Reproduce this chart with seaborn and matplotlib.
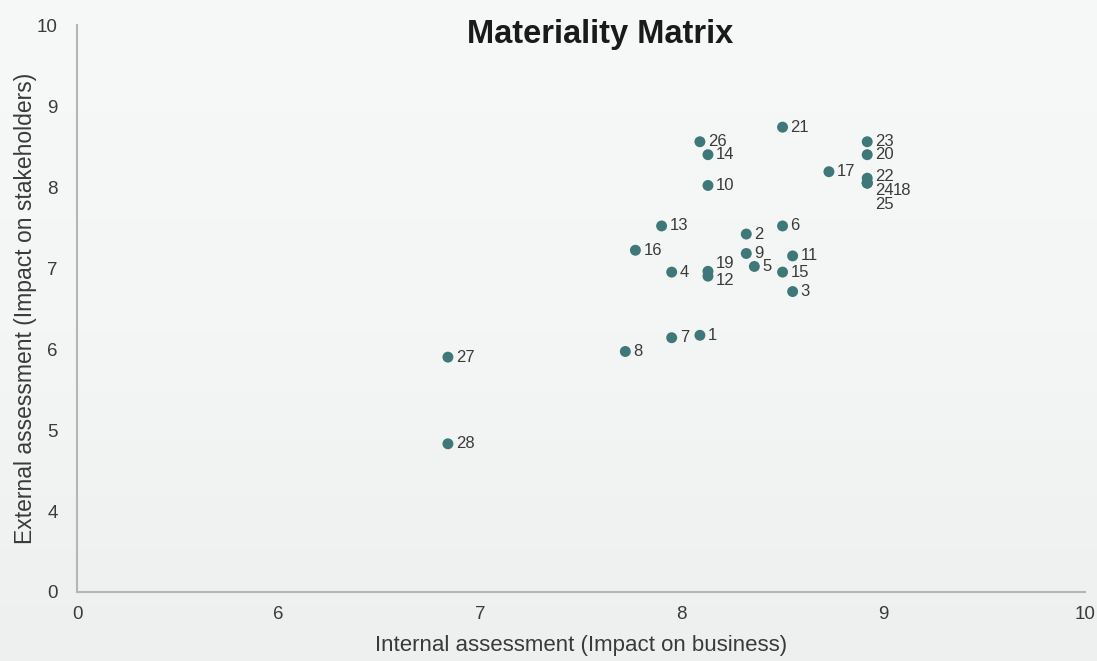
import numpy as np
import pandas as pd
import matplotlib
matplotlib.use("Agg")
import matplotlib.pyplot as plt
import seaborn as sns

# topic ids and scores (internal = x, external = y)
topic_ids = list(range(1, 29))
internal_score = [8.09, 8.32, 8.55, 7.95, 8.36, 8.50, 7.95, 7.72, 8.32, 8.13,
                  8.55, 8.13, 7.90, 8.13, 8.50, 7.77, 8.73, 8.92, 8.13, 8.92,
                  8.50, 8.92, 8.92, 8.92, 8.92, 8.09, 6.84, 6.84]
external_score = [6.17, 7.42, 6.71, 6.95, 7.02, 7.52, 6.14, 5.97, 7.18, 8.02,
                  7.15, 6.90, 7.52, 8.40, 6.95, 7.22, 8.19, 8.05, 6.96, 8.40,
                  8.74, 8.11, 8.56, 8.05, 8.05, 8.56, 5.90, 4.83]

x_ticks = [0, 6, 7, 8, 9, 10]
y_ticks = [0, 4, 5, 6, 7, 8, 9, 10]

df = pd.DataFrame({"id": topic_ids, "internal": internal_score, "external": external_score})

# label nudges (pixels) where labels would collide
label_offsets = {19: (8, 8), 12: (8, -4), 22: (8, 2), 24: (8, -7), 18: (26, -7), 25: (8, -21)}

sns.set_theme(style="white")
plt.rcParams["font.family"] = ["Liberation Sans", "DejaVu Sans"]

fig = plt.figure(figsize=(10.97, 6.61), dpi=100)
bg_color = "#f5f7f7"
fig.patch.set_facecolor(bg_color)

# soft background gradient
bg = fig.add_axes([0, 0, 1, 1], zorder=-5)
grad = np.linspace(0, 1, 256)[:, None] * np.ones((1, 16))
bg.imshow(grad, aspect="auto", cmap=matplotlib.colors.LinearSegmentedColormap.from_list(
    "bg", ["#f7f9f9", "#f4f6f6", "#eef0f0"]), extent=[0, 1, 0, 1], origin="upper")
bg.axis("off")

ax = fig.add_axes([0.0702, 0.1044, 0.9188, 0.8576])
ax.set_facecolor("none")

# broken-style axes: 0 sits one step before the first real tick
ax.set_xscale("function", functions=(lambda v: np.where(v >= 6, v - 5, v / 6.0),
                                     lambda p: np.where(p >= 1, p + 5, p * 6.0)))
ax.set_yscale("function", functions=(lambda v: np.where(v >= 4, v - 3, v / 4.0),
                                     lambda p: np.where(p >= 1, p + 3, p * 4.0)))

sns.scatterplot(data=df, x="internal", y="external", ax=ax, s=62,
                color="#3e7878", edgecolor="none", zorder=3)

for _, r in df.iterrows():
    dx, dy = label_offsets.get(int(r["id"]), (8, 0))
    ax.annotate(str(int(r["id"])), (r["internal"], r["external"]),
                xytext=(dx, dy), textcoords="offset pixels",
                ha="left", va="center", fontsize=12, color="#3a3a3a")

ax.set_xlim(0, 10)
ax.set_ylim(0, 10)
ax.set_xticks(x_ticks)
ax.set_yticks(y_ticks)
ax.set_xticklabels([str(t) for t in x_ticks])
ax.set_yticklabels([str(t) for t in y_ticks])
ax.tick_params(axis="both", length=0, labelsize=13.5, labelcolor="#3a3a3a")
ax.tick_params(axis="x", pad=10)
ax.tick_params(axis="y", pad=14)

for side in ["top", "right"]:
    ax.spines[side].set_visible(False)
for side in ["left", "bottom"]:
    ax.spines[side].set_color("#b3b5b7")
    ax.spines[side].set_linewidth(1.5)

ax.set_xlabel("Internal assessment (Impact on business)", fontsize=16, color="#3a3a3a", labelpad=9)
ax.set_ylabel("External assessment (Impact on stakeholders)", fontsize=16.5, color="#3a3a3a", labelpad=0)

fig.text(600 / 1097, 1 - 34 / 661, "Materiality Matrix", ha="center", va="center",
         fontsize=23.5, fontweight="bold", color="#1a1a1a")

fig.savefig("out.png", dpi=100, facecolor=fig.get_facecolor())
